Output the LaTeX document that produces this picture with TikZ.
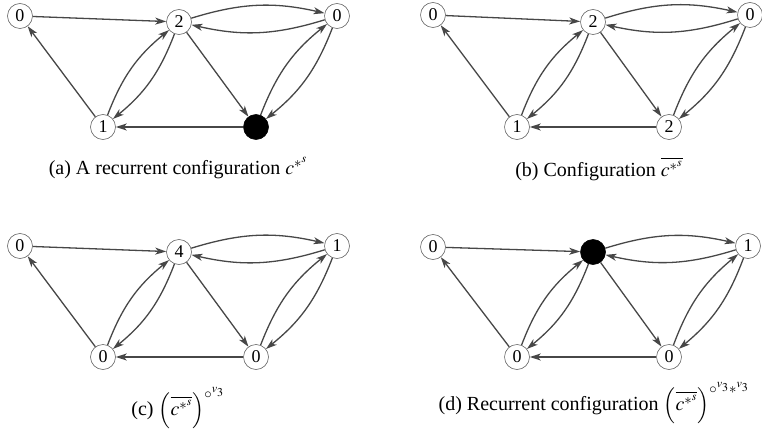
\documentclass[tikz,border=0pt]{standalone}
\usepackage{mathptmx}
\usepackage{fontspec}
\setmainfont{Liberation Serif}
\usetikzlibrary{arrows.meta}
\tikzset{
  site/.style={circle, draw=black!60, line width=0.6pt, fill=white, minimum size=25pt, inner sep=0pt, font=\fontsize{18}{18}\selectfont},
  sink/.style={site, fill=black, draw=black},
  edge/.style={draw=black!72, line width=1.3pt, -{Stealth[length=11pt,width=7pt,inset=3pt]}},
  capt/.style={inner sep=0pt, font=\fontsize{20}{24}\selectfont}
}
% the ten arcs of one panel, between the nodes named #1l, #1m, #1r, #1bl, #1br
\newcommand{\sandedges}[1]{%
  \draw[edge] (#1l) -- (#1m);
  \draw[edge] (#1bl) -- (#1l);
  \draw[edge] (#1m) -- (#1br);
  \draw[edge] (#1br) -- (#1bl);
  \draw[edge] (#1bl) to[bend left=15] (#1m);
  \draw[edge] (#1m) to[bend left=15] (#1bl);
  \draw[edge] (#1m) to[bend left=15] (#1r);
  \draw[edge] (#1r) to[bend left=15] (#1m);
  \draw[edge] (#1br) to[bend left=15] (#1r);
  \draw[edge] (#1r) to[bend left=15] (#1br);
}
\begin{document}
\begin{tikzpicture}[x=1pt, y=-1pt, line join=round]
  \useasboundingbox (0,0) rectangle (762,433);
  % (a)
  \begin{scope}[shift={(20,16)}]
    \node[site] (al) at (0,0) {0};
    \node[site] (am) at (159,6) {2};
    \node[site] (ar) at (317,0) {0};
    \node[site] (abl) at (83,111) {1};
    \node[sink] (abr) at (236,111) {};
  \end{scope}
  \sandedges{a}
  \node[capt] (acap) at (178,168) {(a) A recurrent configuration $c^{*^{s}}$};
  % (b)
  \begin{scope}[shift={(433,15)}]
    \node[site] (bl) at (0,0) {0};
    \node[site] (bm) at (160,7) {2};
    \node[site] (br) at (317,0) {0};
    \node[site] (bbl) at (84,112) {1};
    \node[site] (bbr) at (236,112) {2};
  \end{scope}
  \sandedges{b}
  \node[capt] (bcap) at (599,169) {(b) Configuration $\overline{c^{*^{s}}}$};
  % (c)
  \begin{scope}[shift={(20,246)}]
    \node[site] (cl) at (0,0) {0};
    \node[site] (cm) at (159,6) {4};
    \node[site] (cr) at (317,0) {1};
    \node[site] (cbl) at (83,111) {0};
    \node[site] (cbr) at (236,111) {0};
  \end{scope}
  \sandedges{c}
  \node[capt] (ccap) at (178,408) {(c) $\left(\overline{c^{*^{s}}}\right)^{\circ^{v_3}}$};
  % (d)
  \begin{scope}[shift={(433,247)}]
    \node[site] (dl) at (0,0) {0};
    \node[sink] (dm) at (160,5) {};
    \node[site] (dr) at (315,-1) {1};
    \node[site] (dbl) at (84,110) {0};
    \node[site] (dbr) at (236,110) {0};
  \end{scope}
  \sandedges{d}
  \node[capt] (dcap) at (594,403) {(d) Recurrent configuration $\left(\overline{c^{*^{s}}}\right)^{\circ^{v_3}*^{v_3}}$};
\end{tikzpicture}
\end{document}
